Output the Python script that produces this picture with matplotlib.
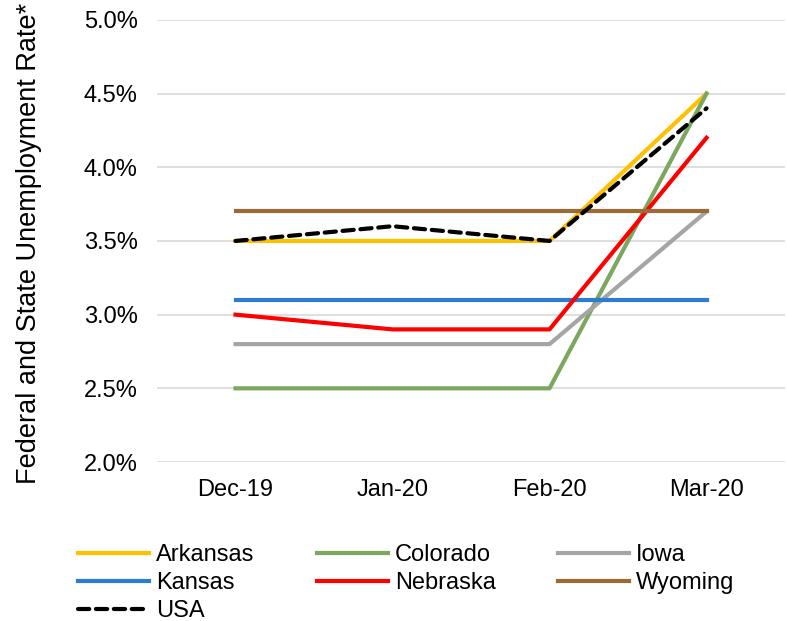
import matplotlib
matplotlib.use('Agg')
import matplotlib.pyplot as plt
from matplotlib.ticker import FuncFormatter

months = ["Dec-19", "Jan-20", "Feb-20", "Mar-20"]
arkansas = [3.5, 3.5, 3.5, 4.5]
colorado = [2.5, 2.5, 2.5, 4.5]
iowa = [2.8, 2.8, 2.8, 3.7]
kansas = [3.1, 3.1, 3.1, 3.1]
nebraska = [3.0, 2.9, 2.9, 4.2]
wyoming = [3.7, 3.7, 3.7, 3.7]
usa = [3.5, 3.6, 3.5, 4.4]

plt.rcParams['font.family'] = ['Liberation Sans', 'DejaVu Sans']

fig = plt.figure(figsize=(7.87, 6.21), dpi=100)
ax = fig.add_axes([0.1995, 0.256, 0.798, 0.712])

x = list(range(len(months)))
lw = 3
lines = {}
lines['Arkansas'], = ax.plot(x, arkansas, color='#FFC000', lw=lw, label='Arkansas')
lines['Colorado'], = ax.plot(x, colorado, color='#7BA75F', lw=lw, label='Colorado')
lines['Iowa'], = ax.plot(x, iowa, color='#A5A5A5', lw=lw, label='Iowa')
lines['Kansas'], = ax.plot(x, kansas, color='#2E7BD3', lw=lw, label='Kansas')
lines['Nebraska'], = ax.plot(x, nebraska, color='#FF0000', lw=lw, label='Nebraska')
lines['Wyoming'], = ax.plot(x, wyoming, color='#9C6A35', lw=lw, label='Wyoming')
lines['USA'], = ax.plot(x, usa, color='black', lw=lw, ls=(0, (2.7, 1.6)),
                        dash_capstyle='round', label='USA')

ax.set_xlim(-0.5, 3.5)
ax.set_ylim(2.0, 5.0)
ax.set_yticks([2.0, 2.5, 3.0, 3.5, 4.0, 4.5, 5.0])
ax.yaxis.set_major_formatter(FuncFormatter(lambda v, p: f"{v:.1f}%"))
ax.set_xticks(x)
ax.set_xticklabels(months)
ax.grid(axis='y', color='#D9D9D9', lw=1.2)
ax.set_axisbelow(True)
for s in ax.spines.values():
    s.set_visible(False)
ax.tick_params(axis='both', length=0, labelsize=17, colors='black')
ax.tick_params(axis='y', pad=14)
ax.tick_params(axis='x', pad=12)

ax.set_ylabel('Federal and State Unemployment Rate*', fontsize=19.5)
ax.yaxis.set_label_coords(-0.183, 0.494)

order = ['Arkansas', 'Kansas', 'USA', 'Colorado', 'Nebraska', 'Iowa', 'Wyoming']
fig.legend([lines[k] for k in order], order, ncol=3, frameon=False,
           fontsize=17, loc='upper left', bbox_to_anchor=(0.099, 0.124),
           handlelength=3.0, handletextpad=0.3, columnspacing=2.65,
           labelspacing=0.26, borderpad=0, borderaxespad=0)

fig.savefig('out.png', dpi=100)
